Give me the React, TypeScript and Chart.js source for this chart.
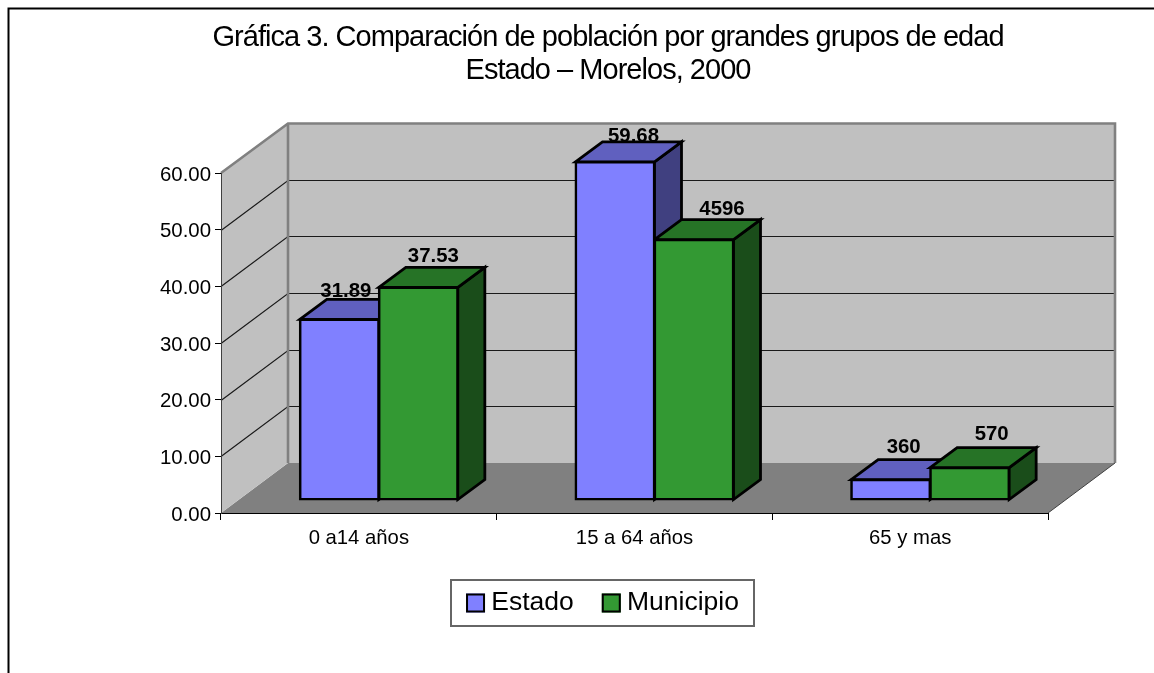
import React, { useEffect, useRef } from "react";
import { Chart, registerables } from "chart.js";

Chart.register(...registerables);

const categories = ["0 a14 años", "15 a 64 años", "65 y mas"];
const estadoValues = [31.89, 59.68, 3.6];
const municipioValues = [37.53, 45.96, 5.7];
const estadoLabels = ["31.89", "59.68", "360"];
const municipioLabels = ["37.53", "4596", "570"];
const titleLines = [
  "Gráfica 3. Comparación de población por grandes grupos de edad",
  "Estado – Morelos, 2000",
];

const FONT = '"Liberation Sans", Arial, sans-serif';
const WALL_DX = 67, WALL_DY = 50;
const BAR_DX = 20, BAR_DY = 13;
const DEPTH_DX = 27, DEPTH_DY = 20;
// where Excel left each data label relative to its bar: [x, y] per category
const estadoNudge = [[6.5, 22], [18.5, 20], [13, 27]];
const municipioNudge = [[15, 25], [28, 25], [22, 28]];

const faces = [
  { front: "#8080FF", top: "#6060BF", side: "#404080" },
  { front: "#339933", top: "#267326", side: "#1A4D1A" },
];

const poly = (ctx: CanvasRenderingContext2D, pts: number[][], fill: string | null, stroke: string | null, lw = 2) => {
  ctx.beginPath();
  pts.forEach((p, i) => (i ? ctx.lineTo(p[0], p[1]) : ctx.moveTo(p[0], p[1])));
  ctx.closePath();
  if (fill) { ctx.fillStyle = fill; ctx.fill(); }
  if (stroke) { ctx.strokeStyle = stroke; ctx.lineWidth = lw; ctx.lineJoin = "miter"; ctx.stroke(); }
};

const scene3d = {
  id: "scene3d",
  afterLayout(chart: any) {
    const l = chart.legend;
    l.left += 8.5; l.right += 8.5;
    const h = l.bottom - l.top;
    l.top = 561.5; l.bottom = 561.5 + h;
    const t = chart.titleBlock;
    t.left += 14; t.right += 14;
    if (!t.__tight) {
      t.__tight = true;
      const draw = t.draw;
      t.draw = function () {
        const c = this.ctx;
        c.save();
        c.letterSpacing = "-0.97px";
        draw.call(this);
        c.restore();
      };
    }
  },
  beforeDraw(chart: any) {
    const { ctx, chartArea: a, scales } = chart;
    ctx.save();
    // outer frame
    ctx.strokeStyle = "#000"; ctx.lineWidth = 2;
    ctx.beginPath(); ctx.moveTo(8.5, 673); ctx.lineTo(8.5, 8.5); ctx.lineTo(1154, 8.5); ctx.stroke();
    const T = a.top, B = a.bottom, L = a.left, R = a.right;
    // floor
    poly(ctx, [[L, B], [L + WALL_DX, B - WALL_DY], [R + WALL_DX, B - WALL_DY], [R, B]], "#808080", null);
    // back + side walls
    poly(ctx, [[L + WALL_DX, T - WALL_DY], [R + WALL_DX, T - WALL_DY], [R + WALL_DX, B - WALL_DY], [L + WALL_DX, B - WALL_DY]], "#C0C0C0", null);
    poly(ctx, [[L, T], [L + WALL_DX, T - WALL_DY], [L + WALL_DX, B - WALL_DY], [L, B]], "#C0C0C0", null);
    // grid lines follow the y scale around the walls
    ctx.strokeStyle = "#1a1a1a"; ctx.lineWidth = 1.2;
    scales.y.ticks.forEach((t: any) => {
      if (t.value === 0 || t.value === 60) return;
      const y = Math.round(scales.y.getPixelForValue(t.value)) + 0.5;
      ctx.beginPath(); ctx.moveTo(L, y); ctx.lineTo(L + WALL_DX, y - WALL_DY); ctx.lineTo(R + WALL_DX, y - WALL_DY); ctx.stroke();
    });
    // wall outlines
    ctx.strokeStyle = "#808080"; ctx.lineWidth = 2.6;
    ctx.beginPath();
    ctx.moveTo(L, T); ctx.lineTo(L + WALL_DX, T - WALL_DY + 0.5); ctx.lineTo(R + WALL_DX, T - WALL_DY + 0.5); ctx.lineTo(R + WALL_DX, B - WALL_DY);
    ctx.moveTo(L + WALL_DX, T - WALL_DY + 0.5); ctx.lineTo(L + WALL_DX, B - WALL_DY);
    ctx.stroke();
    ctx.strokeStyle = "#404040"; ctx.lineWidth = 1;
    ctx.beginPath(); ctx.moveTo(R, B); ctx.lineTo(R + WALL_DX, B - WALL_DY); ctx.stroke();
    // legend frame
    ctx.strokeStyle = "#666"; ctx.lineWidth = 2;
    ctx.strokeRect(451, 580, 303, 46);
    ctx.restore();
  },
  beforeDatasetsDraw(chart: any) {
    const { ctx } = chart;
    ctx.save();
    ctx.translate(BAR_DX, -BAR_DY);
    chart.data.datasets.forEach((_: any, di: number) => {
      const f = faces[di];
      chart.getDatasetMeta(di).data.forEach((b: any) => {
        const l = b.x - b.width / 2, r = b.x + b.width / 2, t = b.y, base = b.base;
        poly(ctx, [[r, t], [r + DEPTH_DX, t - DEPTH_DY], [r + DEPTH_DX, base - DEPTH_DY], [r, base]], f.side, "#000", 2.8);
        poly(ctx, [[l, t], [l + DEPTH_DX, t - DEPTH_DY], [r + DEPTH_DX, t - DEPTH_DY], [r, t]], f.top, "#000", 2.8);
      });
    });
  },
  afterDatasetsDraw(chart: any) {
    const { ctx } = chart;
    ctx.restore();
    ctx.save();
    // data labels
    ctx.fillStyle = "#000";
    ctx.font = `bold 20.4px ${FONT}`;
    ctx.textAlign = "center";
    ctx.textBaseline = "alphabetic";
    [[estadoLabels, estadoNudge], [municipioLabels, municipioNudge]].forEach((set: any, di) => {
      chart.getDatasetMeta(di).data.forEach((b: any, i: number) => {
        ctx.fillText(set[0][i], b.x + BAR_DX + set[1][i][0], b.y - BAR_DY - set[1][i][1]);
      });
    });
    // legend swatches
    const l = chart.legend;
    (l.legendHitBoxes || []).forEach((h: any, i: number) => {
      const x = h.left;
      const y = 593.5;
      ctx.fillStyle = faces[i].front;
      ctx.fillRect(x, y, 19, 19);
      ctx.strokeStyle = "#000"; ctx.lineWidth = 2;
      ctx.strokeRect(x + 1, y + 1, 17, 17);
    });
    ctx.restore();
  },
};

export default function App() {
  const ref = useRef<HTMLCanvasElement>(null);
  useEffect(() => {
    const chart = new Chart(ref.current!, {
      type: "bar",
      data: {
        labels: categories,
        datasets: [
          { label: "Estado", data: estadoValues, backgroundColor: faces[0].front, borderColor: "#000", borderWidth: 2.6, borderSkipped: false, inflateAmount: 1 },
          { label: "Municipio", data: municipioValues, backgroundColor: faces[1].front, borderColor: "#000", borderWidth: 2.6, borderSkipped: false, inflateAmount: 1 },
        ],
      },
      options: {
        animation: false,
        responsive: false,
        devicePixelRatio: 1,
        clip: false,
        layout: { padding: { left: 140, right: 106, top: 0, bottom: 0 } },
        datasets: { bar: { categoryPercentage: 158 / 275.67, barPercentage: 1 } },
        plugins: {
          tooltip: { enabled: false },
          title: {
            display: true,
            text: titleLines,
            color: "#000",
            font: { family: FONT, size: 29, weight: "normal", lineHeight: 33 / 29 },
            padding: { top: 21, bottom: 86 },
          },
          legend: {
            display: true,
            position: "bottom",
            labels: {
              color: "#000",
              boxWidth: 12,
              boxHeight: 19,
              padding: 28,
              font: { family: FONT, size: 26.5 },
              generateLabels: (c: any) =>
                Chart.defaults.plugins.legend.labels.generateLabels(c).map((it: any) => ({
                  ...it,
                  fillStyle: "rgba(0,0,0,0)",
                  strokeStyle: "rgba(0,0,0,0)",
                  lineWidth: 0,
                })),
            },
          },
        },
        scales: {
          x: {
            afterFit: (s: any) => { s.height = 160 - s.chart.legend.height; },
            border: { color: "#000", width: 1 },
            grid: { drawOnChartArea: false, drawTicks: true, tickLength: 7, color: "#000" },
            ticks: { color: "#000", padding: 6, maxRotation: 0, font: { family: FONT, size: 20.3 } },
          },
          y: {
            min: 0,
            max: 60,
            afterFit: (s: any) => { s.width = 81; },
            border: { color: "#404040", width: 1 },
            grid: { drawOnChartArea: false, drawTicks: true, tickLength: 6, color: "#000" },
            ticks: { stepSize: 10, color: "#000", padding: 4, labelOffset: 2, font: { family: FONT, size: 20.4 }, callback: (v: any) => Number(v).toFixed(2) },
          },
        },
      } as any,
      plugins: [scene3d],
    });
    return () => chart.destroy();
  }, []);
  return <canvas ref={ref} width={1154} height={673} style={{ display: "block", position: "absolute", left: 0, top: 0 }} />;
}
